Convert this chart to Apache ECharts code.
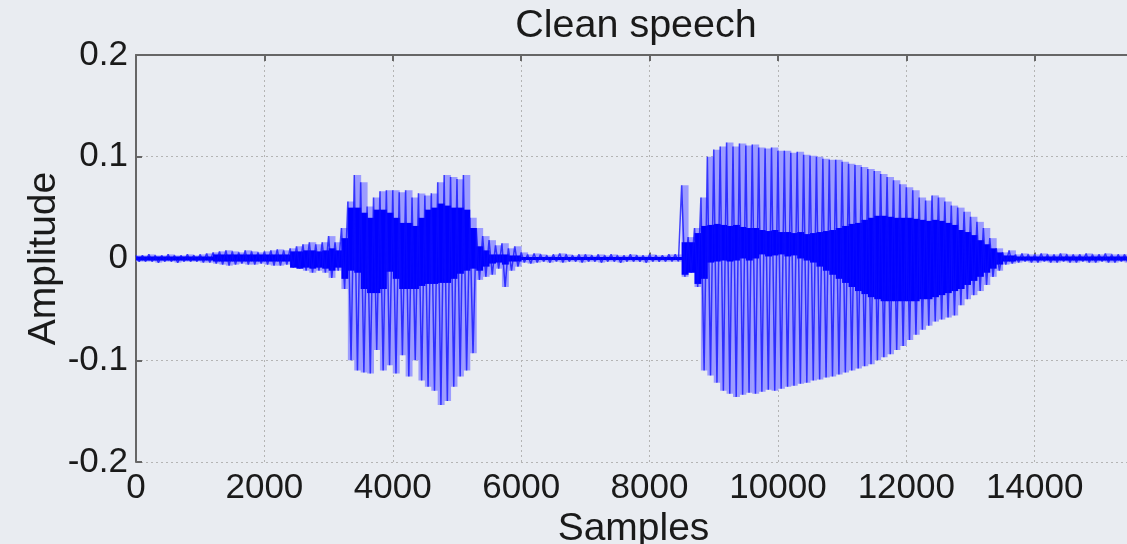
<!DOCTYPE html>
<html>
<head>
<meta charset="utf-8">
<script src="https://cdn.jsdelivr.net/npm/echarts@6/dist/echarts.min.js"></script>
<style>
  html, body { margin: 0; padding: 0; background: #e9ecf1; }
  #main { width: 1127px; height: 544px; }
</style>
</head>
<body>
<div id="main"></div>
<script>
// envelope of the waveform, one value per block of 100 samples
var blockSize = 100;

// outer strokes (max / min of each block)
var peakHi = [
  0.003,0.003,0.004,0.003,0.003,0.004,0.003,0.003,0.004,0.003,
  0.004,0.005,0.006,0.007,0.008,0.007,0.006,0.008,0.007,0.006,
  0.007,0.008,0.009,0.008,0.010,0.012,0.014,0.016,0.014,0.016,
  0.022,0.016,0.030,0.056,0.082,0.075,0.051,0.060,0.066,0.067,
  0.067,0.065,0.067,0.060,0.064,0.062,0.064,0.075,0.082,0.080,
  0.078,0.082,0.040,0.030,0.022,0.018,0.013,0.015,0.010,0.012,
  0.006,0.004,0.005,0.004,0.003,0.004,0.005,0.004,0.003,0.004,
  0.004,0.003,0.004,0.003,0.004,0.003,0.003,0.004,0.003,0.003,
  0.004,0.003,0.003,0.004,0.004,0.072,0.021,0.030,0.060,0.100,
  0.107,0.110,0.114,0.110,0.113,0.111,0.112,0.109,0.108,0.109,
  0.106,0.106,0.104,0.105,0.102,0.101,0.100,0.098,0.097,0.097,
  0.095,0.093,0.092,0.090,0.088,0.086,0.083,0.080,0.077,0.073,
  0.070,0.067,0.060,0.057,0.062,0.060,0.056,0.052,0.050,0.046,
  0.041,0.036,0.030,0.020,0.010,0.006,0.008,0.004,0.005,0.004,
  0.004,0.005,0.004,0.004,0.005,0.004,0.004,0.004,0.005,0.004,
  0.004,0.005,0.004,0.004,0.004
];
var peakLo = [
  -0.003,-0.003,-0.003,-0.004,-0.003,-0.003,-0.004,-0.003,-0.003,-0.003,
  -0.004,-0.004,-0.005,-0.006,-0.007,-0.006,-0.005,-0.006,-0.006,-0.005,
  -0.006,-0.007,-0.007,-0.006,-0.009,-0.010,-0.012,-0.014,-0.012,-0.014,
  -0.019,-0.012,-0.030,-0.100,-0.110,-0.112,-0.113,-0.090,-0.110,-0.105,
  -0.113,-0.095,-0.116,-0.100,-0.120,-0.126,-0.130,-0.144,-0.140,-0.126,
  -0.116,-0.110,-0.093,-0.021,-0.018,-0.016,-0.010,-0.028,-0.012,-0.008,
  -0.004,-0.005,-0.004,-0.003,-0.004,-0.003,-0.004,-0.003,-0.003,-0.004,
  -0.003,-0.003,-0.004,-0.003,-0.003,-0.004,-0.003,-0.003,-0.003,-0.004,
  -0.003,-0.003,-0.003,-0.003,-0.003,-0.018,-0.014,-0.028,-0.110,-0.115,
  -0.122,-0.130,-0.133,-0.136,-0.134,-0.132,-0.133,-0.131,-0.129,-0.130,
  -0.128,-0.126,-0.125,-0.123,-0.122,-0.120,-0.119,-0.117,-0.116,-0.114,
  -0.112,-0.110,-0.108,-0.106,-0.104,-0.100,-0.097,-0.094,-0.090,-0.086,
  -0.080,-0.075,-0.070,-0.066,-0.062,-0.060,-0.058,-0.056,-0.046,-0.040,
  -0.036,-0.032,-0.026,-0.018,-0.012,-0.006,-0.005,-0.004,-0.003,-0.004,
  -0.004,-0.003,-0.004,-0.004,-0.003,-0.004,-0.004,-0.003,-0.004,-0.004,
  -0.003,-0.004,-0.004,-0.003,-0.004
];

// dense dark core of the trace
var coreHi = [
  0.002,0.002,0.002,0.002,0.002,0.002,0.002,0.002,0.002,0.002,
  0.002,0.002,0.004,0.004,0.004,0.004,0.004,0.004,0.004,0.004,
  0.004,0.004,0.004,0.004,0.007,0.007,0.008,0.008,0.007,0.008,
  0.010,0.008,0.020,0.050,0.050,0.045,0.040,0.048,0.048,0.045,
  0.040,0.035,0.035,0.032,0.040,0.048,0.050,0.054,0.052,0.050,
  0.050,0.048,0.030,0.012,0.008,0.004,0.004,0.004,0.003,0.003,
  0.0015,0.0015,0.0015,0.0015,0.0015,0.0015,0.0015,0.0015,0.0015,0.0015,
  0.0015,0.0015,0.0015,0.0015,0.0015,0.0015,0.0015,0.0015,0.0015,0.0015,
  0.0015,0.0015,0.0015,0.0015,0.0015,0.016,0.016,0.025,0.032,0.033,
  0.034,0.033,0.032,0.033,0.031,0.030,0.030,0.028,0.027,0.028,
  0.026,0.026,0.025,0.026,0.024,0.025,0.026,0.027,0.028,0.030,
  0.032,0.034,0.035,0.038,0.040,0.042,0.042,0.041,0.040,0.040,
  0.040,0.039,0.038,0.037,0.038,0.037,0.035,0.033,0.028,0.026,
  0.023,0.018,0.014,0.010,0.006,0.003,0.003,0.002,0.002,0.002,
  0.002,0.002,0.002,0.002,0.002,0.002,0.002,0.002,0.002,0.002,
  0.002,0.002,0.002,0.002,0.002
];
var coreLo = [
  -0.002,-0.002,-0.002,-0.002,-0.002,-0.002,-0.002,-0.002,-0.002,-0.002,
  -0.002,-0.002,-0.003,-0.003,-0.003,-0.003,-0.003,-0.003,-0.003,-0.003,
  -0.003,-0.003,-0.003,-0.003,-0.009,-0.010,-0.009,-0.010,-0.009,-0.010,
  -0.012,-0.009,-0.020,-0.012,-0.014,-0.030,-0.034,-0.034,-0.030,-0.013,
  -0.020,-0.030,-0.030,-0.030,-0.027,-0.025,-0.025,-0.024,-0.024,-0.020,
  -0.015,-0.012,-0.010,-0.012,-0.008,-0.005,-0.004,-0.006,-0.003,-0.003,
  -0.0015,-0.0015,-0.0015,-0.0015,-0.0015,-0.0015,-0.0015,-0.0015,-0.0015,-0.0015,
  -0.0015,-0.0015,-0.0015,-0.0015,-0.0015,-0.0015,-0.0015,-0.0015,-0.0015,-0.0015,
  -0.0015,-0.0015,-0.0015,-0.0015,-0.0015,-0.016,-0.014,-0.025,-0.020,-0.004,
  -0.003,-0.002,-0.003,-0.002,0.000,-0.002,0.000,0.004,0.002,0.003,
  0.004,0.002,0.003,0.000,-0.002,-0.004,-0.008,-0.012,-0.016,-0.020,
  -0.024,-0.028,-0.032,-0.035,-0.038,-0.040,-0.042,-0.042,-0.042,-0.042,
  -0.042,-0.042,-0.040,-0.040,-0.038,-0.036,-0.034,-0.032,-0.030,-0.026,
  -0.022,-0.018,-0.014,-0.010,-0.006,-0.003,-0.003,-0.002,-0.002,-0.002,
  -0.002,-0.002,-0.002,-0.002,-0.002,-0.002,-0.002,-0.002,-0.002,-0.002,
  -0.002,-0.002,-0.002,-0.002,-0.002
];

var titleText = 'Clean speech';
var xName = 'Samples';
var yName = 'Amplitude';

// max of a block at its start, min half a block later -> up/down strokes
function strokes(hi, lo) {
  var pts = [];
  for (var i = 0; i < hi.length; i++) {
    pts.push([i * blockSize, hi[i]]);
    pts.push([i * blockSize + blockSize / 2, lo[i]]);
  }
  return pts;
}

// [start, hi, lo] per block, drawn as a filled column
function blocks(hi, lo) {
  var rows = [];
  for (var i = 0; i < hi.length; i++) {
    rows.push([i * blockSize, hi[i], lo[i]]);
  }
  return rows;
}

function bandSeries(name, rows, color) {
  return {
    name: name, type: 'custom', xAxisIndex: 0, silent: true, clip: true,
    encode: { x: 0, y: [1, 2] },
    data: rows,
    renderItem: function (params, api) {
      var x0 = api.value(0);
      var top = api.coord([x0, api.value(1)]);
      var bot = api.coord([x0 + blockSize, api.value(2)]);
      return {
        type: 'rect',
        shape: { x: top[0], y: top[1], width: bot[0] - top[0] + 0.5, height: Math.max(bot[1] - top[1], 1) },
        style: { fill: color }
      };
    }
  };
}

var myChart = echarts.init(document.getElementById('main'));
var txt = '#1a1a1a';
var axisCol = '#666666';
var gridLine = { show: true, lineStyle: { color: '#b4b4b4', type: [2, 3], width: 1 } };

var option = {
  backgroundColor: '#e9ecf1',
  animation: false,
  title: {
    text: titleText,
    left: 636,
    top: 6,
    padding: 0,
    textAlign: 'center',
    textStyle: { fontFamily: 'Liberation Sans', fontSize: 39.5, fontWeight: 'normal', color: txt }
  },
  grid: { left: 136, top: 55, width: 995, height: 407, containLabel: false, outerBoundsMode: 'none' },
  xAxis: [
    {
      type: 'value', min: 0, max: 15500, interval: 2000, position: 'bottom',
      name: xName, nameLocation: 'middle', nameGap: 48, nameMoveOverlap: false,
      nameTextStyle: { fontFamily: 'Liberation Sans', fontSize: 39, color: txt },
      axisLine: { show: true, lineStyle: { color: axisCol, width: 2 } },
      axisTick: { show: true, inside: true, length: 6, lineStyle: { color: axisCol, width: 2 } },
      axisLabel: {
        fontFamily: 'Liberation Sans', fontSize: 35, color: txt, margin: 9,
        formatter: function (v) { return v % 2000 === 0 ? String(v) : ''; }
      },
      splitLine: gridLine
    },
    {
      type: 'value', min: 0, max: 15500, interval: 2000, position: 'top',
      axisLine: { show: true, onZero: false, lineStyle: { color: axisCol, width: 2 } },
      axisTick: { show: true, inside: true, length: 6, lineStyle: { color: axisCol, width: 2 } },
      axisLabel: { show: false },
      splitLine: { show: false }
    }
  ],
  yAxis: {
    type: 'value', min: -0.2, max: 0.2, interval: 0.1,
    name: yName, nameLocation: 'middle', nameGap: 72, nameRotate: 90, nameMoveOverlap: false,
    nameTextStyle: { fontFamily: 'Liberation Sans', fontSize: 39, color: txt },
    axisLine: { show: true, lineStyle: { color: axisCol, width: 2 } },
    axisTick: { show: true, inside: true, length: 6, lineStyle: { color: axisCol, width: 2 } },
    axisLabel: {
      fontFamily: 'Liberation Sans', fontSize: 35, color: txt, margin: 8,
      formatter: function (v) { return String(parseFloat(v.toFixed(1))); }
    },
    splitLine: gridLine
  },
  series: [
    bandSeries('envelope', blocks(peakHi, peakLo), '#9c9cff'),
    {
      name: 'peaks', type: 'line', xAxisIndex: 0, data: strokes(peakHi, peakLo),
      showSymbol: false, sampling: null, silent: true,
      lineStyle: { color: 'rgba(10,10,255,0.75)', width: 1.5 }
    },
    bandSeries('core', blocks(coreHi, coreLo), '#0000ff')
  ]
};

myChart.setOption(option);
window.addEventListener('resize', function () {
  myChart.resize();
});
</script>
</body>
</html>
